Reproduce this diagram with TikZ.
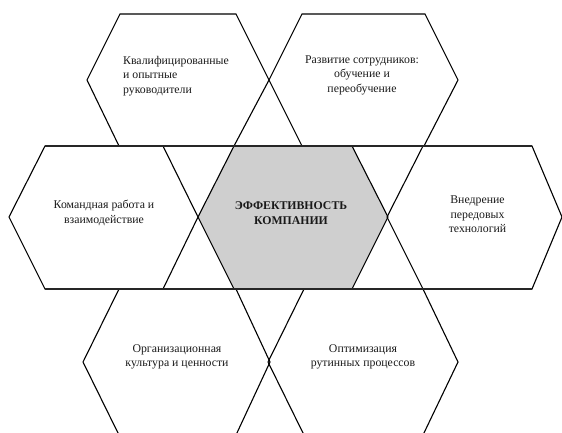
\documentclass[tikz,border=0pt]{standalone}
\usepackage{fontspec}
\setmainfont{Liberation Serif}
\begin{document}
\begin{tikzpicture}[x=1pt,y=-1pt,
  hexedge/.style={draw=black,line width=1.1pt,line join=miter},
  hexfill/.style={fill=black!19},
  sep/.style={draw=black!85,line width=1.5pt},
  lbl/.style={font=\fontsize{11.8}{14.5}\selectfont,text=black!90,inner sep=0pt,align=center},
  lbll/.style={lbl,align=left,anchor=west},
  bold/.style={lbl,font=\fontsize{11.8}{14.5}\selectfont\bfseries}]
\useasboundingbox (0,0) rectangle (562,432);
\clip (0,0) rectangle (562,432);
% center hexagon fill
\path[hexfill] (198,217) -- (234,146) -- (352,146) -- (388,217) -- (352,289) -- (234,289) -- cycle;
% hexagons
\draw[hexedge] (87,80) -- (120,14) -- (236,14) -- (269,80) -- (234,146) -- (119,146) -- cycle;
\draw[hexedge] (269,80) -- (302,14) -- (425,14) -- (458,80) -- (424,146) -- (302,146) -- cycle;
\draw[hexedge] (9,217) -- (45,146) -- (163,146) -- (198,217) -- (163,289) -- (45,289) -- cycle;
\draw[hexedge] (198,217) -- (234,146) -- (352,146) -- (388,217) -- (352,289) -- (234,289) -- cycle;
\draw[hexedge] (387,217) -- (423,146) -- (532,146) -- (562,217) -- (532,289) -- (423,289) -- cycle;
\draw[hexedge] (83,362) -- (119,289) -- (236,289) -- (270,362) -- (236,435) -- (119,435) -- cycle;
\draw[hexedge] (268,362) -- (304,289) -- (423,289) -- (458,362) -- (423,435) -- (304,435) -- cycle;
% horizontal separators
\coordinate (s1a) at (45,146); \coordinate (s1b) at (532,146);
\coordinate (s2a) at (45,289); \coordinate (s2b) at (532,289);
\draw[sep] (s1a) -- (s1b);
\draw[sep] (s2a) -- (s2b);
% labels
\node[lbll] (t1) at (123,76) {Квалифицированные\\и опытные\\руководители};
\node[lbl] (t2) at (362,75) {Развитие сотрудников:\\обучение и\\переобучение};
\node[lbl] (t3) at (104,213) {Командная работа и\\взаимодействие};
\node[bold] (t4) at (291,213) {ЭФФЕКТИВНОСТЬ\\КОМПАНИИ};
\node[lbl] (t5) at (477.5,214.5) {Внедрение\\передовых\\технологий};
\node[lbl] (t6) at (177,357) {Организационная\\культура и ценности};
\node[lbl] (t7) at (363,357) {Оптимизация\\рутинных процессов};
\end{tikzpicture}
\end{document}
